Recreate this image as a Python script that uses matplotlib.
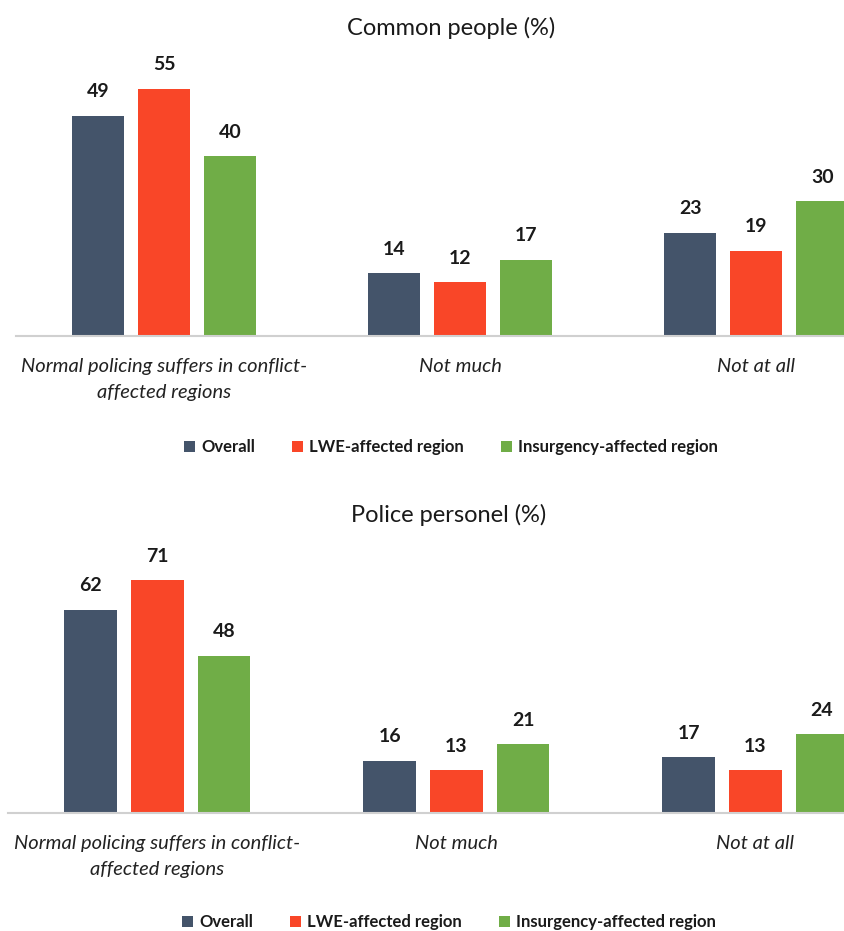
import numpy as np
import matplotlib.pyplot as plt
from matplotlib.patches import Patch

plt.rcParams['font.family'] = ['Lato', 'DejaVu Sans']

categories = ['Normal policing suffers in conflict-\naffected regions', 'Not much', 'Not at all']
series = ['Overall', 'LWE-affected region', 'Insurgency-affected region']
colors = ['#44546A', '#F94628', '#70AD47']

common_people = [
    [49, 14, 23],   # Overall
    [55, 12, 19],   # LWE-affected
    [40, 17, 30],   # Insurgency-affected
]
police = [
    [62, 16, 17],
    [71, 13, 13],
    [48, 21, 24],
]

W, H = 845, 931
fig = plt.figure(figsize=(W / 100, H / 100), dpi=100)


def panel(values, title, left_px, base_px, top_px, xmax, ymax, title_y, legend_y, legend_x):
    ax = fig.add_axes([left_px / W, 1 - base_px / H, 1 - left_px / W, (base_px - top_px) / H])
    x = np.arange(len(categories))
    width = 0.176
    step = 0.223
    for i, (name, vals) in enumerate(zip(series, values)):
        bars = ax.bar(x + (i - 1) * step, vals, width, color=colors[i], label=name)
        ax.bar_label(bars, padding=11, fontsize=14, fontweight='bold', color='#1a1a1a')
    ax.set_xlim(-0.5, xmax)
    ax.set_ylim(0, ymax)
    ax.set_yticks([])
    for s in ['top', 'right', 'left']:
        ax.spines[s].set_visible(False)
    ax.spines['bottom'].set_color('#d0d0d0')
    ax.spines['bottom'].set_linewidth(1.5)
    ax.set_xticks(x)
    ax.set_xticklabels(categories, fontsize=14.5, fontstyle='italic', color='#222222',
                       linespacing=1.65)
    ax.tick_params(axis='x', length=0, pad=16)
    fig.text(legend_x / W, 1 - title_y / H, title, ha='center', va='center',
             fontsize=17, color='#1a1a1a')
    handles = [Patch(facecolor=c, label=n) for n, c in zip(series, colors)]
    leg = fig.legend(handles=handles, loc='center', bbox_to_anchor=(legend_x / W, 1 - legend_y / H),
                     ncol=3, frameon=False, handlelength=0.65, handleheight=0.65,
                     handletextpad=0.4, columnspacing=2.2, prop={'size': 12, 'weight': 'bold'})
    for t in leg.get_texts():
        t.set_color('#1a1a1a')
    return ax


panel(common_people, 'Common people (%)', 16, 336, 66, 2.30, 60, 28, 447, 451)
panel(police, 'Police personel (%)', 8, 813, 567, 2.30, 75, 515, 922, 449)

fig.savefig('out.png', dpi=100)
